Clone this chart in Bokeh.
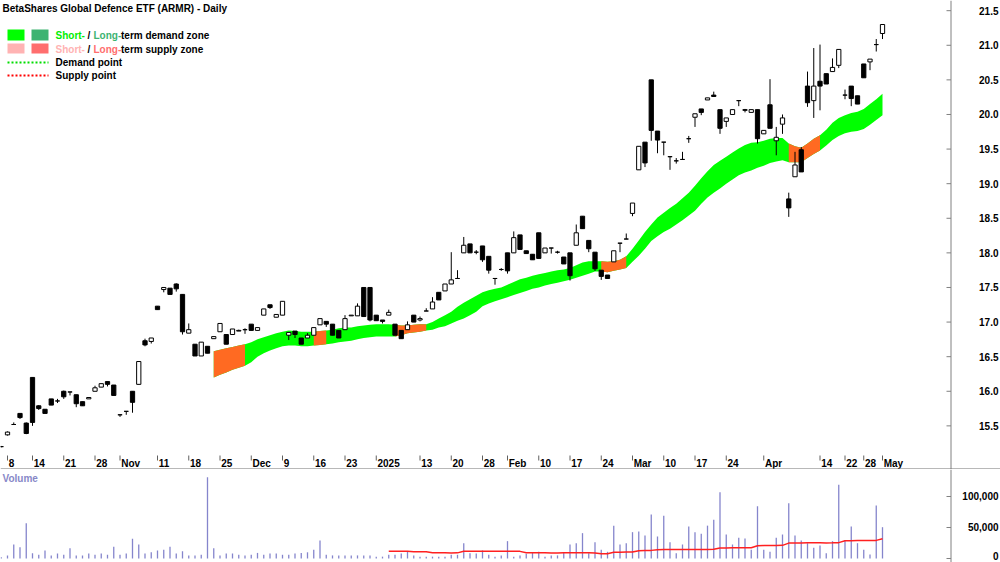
import numpy as np
import pandas as pd
from bokeh.plotting import figure
from bokeh.layouts import column
from bokeh.models import Range1d
from bokeh.core.properties import value
from bokeh.embed import file_html
from bokeh.resources import INLINE

# ---------------- data ----------------
title_text = "BetaShares Global Defence ETF (ARMR) - Daily"
holidays = ["2024-12-25", "2024-12-26", "2025-01-01", "2025-01-27",
            "2025-04-18", "2025-04-21", "2025-04-25"]
trading_days = [d.strftime("%Y-%m-%d") for d in pd.bdate_range("2024-10-07", "2025-05-01")
                if d.strftime("%Y-%m-%d") not in holidays]

opens = [15.20, 15.37, 15.52, 15.68, 15.54, 16.20, 15.79, 15.74, 15.89, 15.86,
         16.00, 15.99, 15.95, 15.85, 15.89, 16.00, 16.06, 16.14, 16.09, 15.66,
         15.71, 16.00, 16.10, 16.73, 16.72, 17.23, 17.47, 17.49, 17.55, 17.40,
         16.84, 16.68, 16.51, 16.65, 16.76, 16.86, 16.82, 16.82, 16.87, 16.89,
         16.97, 16.88, 17.10, 17.25, 17.07, 17.10, 16.81, 16.87, 16.77, 16.77,
         16.81, 16.96, 17.01, 16.97, 16.88, 16.89, 17.09, 17.09, 17.50, 17.50,
         17.10, 17.03, 17.10, 16.97, 16.88, 16.89, 17.10, 17.03, 17.16, 17.19,
         17.43, 17.45, 17.55, 17.63, 18.00, 18.13, 18.01, 18.10, 17.95, 17.63,
         17.76, 18.00, 18.00, 18.26, 18.03, 17.98, 18.29, 18.00, 18.07, 18.01,
         17.94, 18.00, 18.11, 18.53, 18.18, 18.01, 17.75, 17.68, 17.87, 18.14,
         18.20, 18.57, 19.20, 19.60, 20.50, 19.76, 19.60, 19.39, 19.33, 19.35,
         19.65, 19.96, 20.08, 20.21, 20.28, 20.07, 19.90, 20.00, 20.20, 20.07,
         20.03, 20.07, 19.72, 20.14, 19.62, 19.86, 18.78, 19.10, 19.49, 20.41,
         20.20, 20.48, 20.59, 20.62, 20.71, 20.28, 20.41, 20.27, 20.73, 20.76,
         21.01, 21.17]
highs = [15.21, 15.42, 15.55, 15.68, 15.55, 16.20, 15.80, 15.74, 15.89, 15.89,
         16.01, 15.99, 15.95, 15.85, 15.91, 16.08, 16.11, 16.14, 16.09, 15.66,
         15.71, 16.00, 16.43, 16.76, 16.77, 17.23, 17.50, 17.49, 17.56, 17.40,
         16.98, 16.68, 16.71, 16.65, 16.79, 16.98, 16.82, 16.90, 16.89, 16.91,
         16.97, 16.92, 17.19, 17.25, 17.11, 17.30, 16.85, 16.87, 16.77, 16.84,
         16.92, 17.05, 17.01, 16.97, 16.88, 17.10, 17.10, 17.27, 17.50, 17.50,
         17.10, 17.03, 17.18, 16.97, 16.88, 17.01, 17.10, 17.08, 17.20, 17.36,
         17.43, 17.55, 18.01, 17.75, 18.23, 18.13, 18.04, 18.10, 17.95, 17.63,
         17.78, 18.00, 18.31, 18.26, 18.03, 17.98, 18.29, 18.07, 18.07, 18.03,
         17.94, 18.00, 18.41, 18.53, 18.18, 18.01, 17.75, 17.68, 18.03, 18.14,
         18.28, 18.72, 19.54, 19.60, 20.50, 19.76, 19.60, 19.39, 19.37, 19.46,
         19.69, 20.01, 20.08, 20.24, 20.33, 20.07, 19.95, 20.07, 20.20, 20.08,
         20.07, 20.07, 19.77, 20.51, 19.82, 20.00, 18.87, 19.46, 19.53, 20.62,
         20.96, 21.01, 20.59, 20.81, 20.94, 20.36, 20.41, 20.27, 20.73, 20.80,
         21.09, 21.30]
lows = [15.19, 15.36, 15.52, 15.60, 15.38, 15.50, 15.73, 15.68, 15.80, 15.83,
        15.89, 15.94, 15.77, 15.79, 15.89, 16.00, 16.06, 16.07, 15.94, 15.63,
        15.66, 15.69, 16.10, 16.65, 16.69, 17.18, 17.43, 17.40, 17.44, 16.82,
        16.84, 16.51, 16.51, 16.55, 16.76, 16.86, 16.68, 16.82, 16.87, 16.83,
        16.88, 16.88, 17.10, 17.19, 17.07, 17.10, 16.74, 16.77, 16.68, 16.77,
        16.81, 16.96, 16.93, 16.81, 16.77, 16.89, 17.09, 17.09, 17.08, 17.01,
        17.02, 16.98, 17.10, 16.81, 16.76, 16.89, 17.00, 17.01, 17.16, 17.19,
        17.32, 17.45, 17.55, 17.63, 18.00, 18.00, 17.98, 17.87, 17.70, 17.54,
        17.74, 17.70, 18.00, 18.05, 17.99, 17.90, 17.92, 18.00, 17.99, 17.99,
        17.84, 17.60, 18.11, 18.35, 18.01, 17.74, 17.61, 17.63, 17.87, 18.01,
        18.20, 18.53, 19.20, 19.24, 19.62, 19.44, 19.41, 19.20, 19.29, 19.35,
        19.59, 19.82, 19.99, 20.21, 20.26, 19.72, 19.82, 20.00, 20.12, 20.03,
        20.03, 19.58, 19.72, 19.80, 19.41, 19.72, 18.52, 19.10, 19.17, 20.11,
        19.95, 20.06, 20.44, 20.62, 20.67, 20.22, 20.12, 20.15, 20.53, 20.64,
        20.91, 21.09]
closes = [15.20, 15.41, 15.52, 15.62, 15.39, 15.55, 15.75, 15.68, 15.80, 15.86,
          15.92, 15.99, 15.82, 15.79, 15.91, 16.05, 16.11, 16.10, 15.94, 15.66,
          15.71, 15.84, 16.43, 16.67, 16.77, 17.18, 17.50, 17.40, 17.48, 16.86,
          16.89, 16.51, 16.71, 16.55, 16.79, 16.98, 16.68, 16.90, 16.88, 16.89,
          16.88, 16.92, 17.19, 17.21, 17.11, 17.30, 16.85, 16.82, 16.68, 16.81,
          16.92, 17.05, 16.97, 16.81, 16.77, 17.05, 17.10, 17.23, 17.08, 17.03,
          17.02, 17.01, 17.14, 16.81, 16.76, 16.96, 17.00, 17.05, 17.16, 17.29,
          17.32, 17.55, 17.61, 17.63, 18.11, 18.00, 18.01, 17.90, 17.75, 17.63,
          17.76, 17.74, 18.22, 18.05, 17.99, 17.90, 17.92, 18.07, 18.07, 18.01,
          17.84, 17.67, 18.29, 18.35, 18.06, 17.77, 17.66, 17.63, 18.03, 18.14,
          18.20, 18.72, 19.54, 19.30, 19.77, 19.63, 19.60, 19.39, 19.33, 19.35,
          19.65, 20.01, 20.03, 20.24, 20.26, 19.80, 19.95, 20.07, 20.20, 20.06,
          20.07, 19.65, 19.77, 19.80, 19.67, 19.95, 18.65, 19.27, 19.17, 20.17,
          20.41, 20.41, 20.44, 20.68, 20.94, 20.28, 20.23, 20.15, 20.53, 20.80,
          21.01, 21.30]
volumes = [2000, 5000, 22600, 18000, 57000, 8500, 6000, 13000, 5000, 8000,
           6000, 16600, 5000, 5000, 8000, 6000, 8000, 6000, 19000, 6000,
           8000, 31700, 22600, 8000, 10000, 13000, 14000, 19000, 8000, 11800,
           5000, 5000, 6000, 131000, 16600, 5000, 8000, 8000, 6000, 5000,
           6000, 9000, 6000, 8000, 8000, 6000, 6000, 8000, 9000, 10000,
           14000, 29000, 6000, 5000, 5000, 5000, 5000, 5000, 5000, 5000,
           3000, 3000, 6000, 6000, 8000, 11000, 5000, 3000, 3000, 3000,
           3000, 3000, 6000, 6000, 24700, 8500, 8000, 13000, 6000, 3000,
           5000, 28000, 3000, 5000, 7500, 9700, 11000, 3000, 5000, 5000,
           10000, 22600, 24700, 40900, 8600, 26300, 14000, 10800, 53000, 22600,
           24700, 42500, 43500, 37000, 71000, 35500, 68800, 26300, 8600, 22600,
           51600, 42500, 39800, 53000, 62400, 107000, 38700, 22600, 33300, 32300,
           14000, 84400, 14000, 11000, 33300, 38700, 89200, 37000, 29000, 24700,
           17200, 20900, 8600, 28000, 119000, 30000, 51600, 24700, 14000, 6500,
           85500, 50500]

vol_avg_start = "2025-01-06"
vol_avg = [11800, 11800, 11800, 11700, 10800, 10700, 10700, 9200, 9100, 9100,
           9000, 9100, 11600, 11700, 11800, 11800, 11800, 11800, 11700, 11800,
           11700, 11500, 9300, 9200, 9100, 9100, 9000, 9000, 9100, 9100,
           9200, 9300, 9200, 9000, 7700, 7500, 10000, 10200, 10300, 10400,
           12600, 12900, 13100, 14200, 14400, 14500, 14500, 14400, 14500, 14600,
           14600, 14700, 14800, 16900, 17100, 17200, 17200, 17300, 17300, 20500,
           20800, 21000, 21100, 21200, 24800, 25100, 25200, 25300, 25300, 25300,
           25200, 25300, 25600, 28600, 28800, 29000, 29000, 29100, 29200, 31700]

zone_start = "2024-11-22"
zone_upper = [16.58, 16.60, 16.62, 16.64, 16.66, 16.68, 16.71, 16.75, 16.78, 16.81,
              16.84, 16.86, 16.88, 16.87, 16.86, 16.86, 16.86, 16.87, 16.88, 16.89,
              16.91, 16.92, 16.92, 16.94, 16.95, 16.96, 16.97, 16.97, 16.97, 16.96,
              16.95, 16.95, 16.96, 16.97, 16.97, 17.00, 17.05, 17.10, 17.15, 17.22,
              17.28, 17.33, 17.38, 17.43, 17.46, 17.48, 17.50, 17.54, 17.58, 17.62,
              17.64, 17.67, 17.69, 17.71, 17.73, 17.75, 17.76, 17.78, 17.82, 17.86,
              17.88, 17.88, 17.88, 17.87, 17.88, 17.90, 17.95, 18.06, 18.18, 18.30,
              18.41, 18.51, 18.58, 18.65, 18.71, 18.79, 18.87, 18.97, 19.08, 19.18,
              19.27, 19.33, 19.39, 19.45, 19.51, 19.56, 19.59, 19.60, 19.62, 19.65,
              19.66, 19.66, 19.58, 19.54, 19.52, 19.58, 19.65, 19.70, 19.78, 19.88,
              19.95, 19.99, 20.02, 20.04, 20.08, 20.15, 20.22, 20.30]
zone_lower = [16.20, 16.24, 16.27, 16.31, 16.34, 16.37, 16.42, 16.50, 16.55, 16.59,
              16.62, 16.65, 16.66, 16.66, 16.65, 16.65, 16.66, 16.67, 16.68, 16.69,
              16.71, 16.72, 16.73, 16.75, 16.77, 16.78, 16.79, 16.79, 16.79, 16.79,
              16.81, 16.84, 16.85, 16.86, 16.88, 16.89, 16.92, 16.94, 16.98, 17.02,
              17.05, 17.10, 17.15, 17.23, 17.27, 17.30, 17.33, 17.36, 17.39, 17.42,
              17.45, 17.48, 17.50, 17.53, 17.55, 17.57, 17.59, 17.61, 17.64, 17.67,
              17.70, 17.73, 17.73, 17.72, 17.74, 17.76, 17.78, 17.87, 17.96, 18.06,
              18.17, 18.24, 18.30, 18.35, 18.41, 18.47, 18.54, 18.61, 18.71, 18.80,
              18.87, 18.93, 19.00, 19.06, 19.12, 19.16, 19.19, 19.23, 19.26, 19.30,
              19.32, 19.34, 19.31, 19.31, 19.31, 19.37, 19.43, 19.48, 19.55, 19.63,
              19.69, 19.73, 19.75, 19.76, 19.79, 19.85, 19.92, 19.99]
supply_periods = [("2024-11-22", "2024-11-29"), ("2024-12-16", "2024-12-18"),
                  ("2025-01-07", "2025-01-14"), ("2025-02-24", "2025-02-28"),
                  ("2025-04-07", "2025-04-14")]

tick_dates = ["2024-10-08", "2024-10-14", "2024-10-21", "2024-10-28", "2024-11-01",
              "2024-11-11", "2024-11-18", "2024-11-25", "2024-12-02", "2024-12-09",
              "2024-12-16", "2024-12-23", "2025-01-02", "2025-01-13", "2025-01-20",
              "2025-01-28", "2025-02-03", "2025-02-10", "2025-02-17", "2025-02-24",
              "2025-03-03", "2025-03-10", "2025-03-17", "2025-03-24", "2025-04-01",
              "2025-04-14", "2025-04-22", "2025-04-28", "2025-05-01"]
tick_labels = ["8", "14", "21", "28", "Nov", "11", "18", "25", "Dec", "9", "16", "23",
               "2025", "13", "20", "28", "Feb", "10", "17", "24", "Mar", "10", "17",
               "24", "Apr", "14", "22", "28", "May"]
price_ticks = [15.5, 16.0, 16.5, 17.0, 17.5, 18.0, 18.5, 19.0, 19.5, 20.0, 20.5, 21.0, 21.5]
volume_ticks = [0, 50000, 100000]

# ---------------- geometry ----------------
FONT = "Liberation Sans"
W = 1000
H1, H2 = 469, 93
PXD = 6.25          # pixels per trading day
X0 = -0.12
P_TOP, PYU = 21.647, 69.2
V_TOP, VPX = 143548.0, 1612.9

def fx(px):
    return X0 + px / PXD

def fy(py):
    return P_TOP - py / PYU

def fv(py):
    return V_TOP - py * VPX

idx = {d: i for i, d in enumerate(trading_days)}
xs = np.arange(len(trading_days))

p1 = figure(width=W, height=H1, x_range=Range1d(X0, X0 + W / PXD),
            y_range=Range1d(P_TOP - H1 / PYU, P_TOP),
            x_axis_location=None, y_axis_location=None,
            output_backend="svg", toolbar_location=None, min_border=0)
p1.outline_line_color = None
p1.grid.visible = False

# zone band
zs = idx[zone_start]
zx = xs[zs:zs + len(zone_upper)]
p1.varea(x=zx, y1=zone_lower, y2=zone_upper, fill_color="#00ff00")
for a, b in supply_periods:
    s, e = idx[a] - zs, idx[b] - zs + 1
    p1.varea(x=zx[s:e], y1=zone_lower[s:e], y2=zone_upper[s:e], fill_color="#ff6a22")

# candles
o = np.array(opens); c = np.array(closes)
p1.segment(x0=xs, y0=highs, x1=xs, y1=lows, line_color="black", line_width=1)
fills = ["black" if cc < oo else "white" for oo, cc in zip(o, c)]
p1.vbar(x=xs, width=0.68, top=np.maximum(o, c), bottom=np.minimum(o, c),
        fill_color=fills, line_color="black", line_width=1)

# right price axis
AX = fx(950.5)
p1.segment(x0=[AX], y0=[fy(0)], x1=[AX], y1=[fy(H1)], line_color="#808080", line_width=1)
p1.segment(x0=[fx(946)] * len(price_ticks), y0=price_ticks, x1=[AX] * len(price_ticks),
           y1=price_ticks, line_color="#808080", line_width=1)
p1.text(x=[fx(998)] * len(price_ticks), y=price_ticks, text=[f"{t:.1f}" for t in price_ticks],
        text_font=value(FONT), text_font_size="10px", text_font_style="bold",
        text_align="right", text_baseline="middle", text_color="black")

# date axis (inside bottom of price panel)
tx = [idx[d] for d in tick_dates]
p1.segment(x0=tx, y0=[fy(455)] * len(tx), x1=tx, y1=[fy(460)] * len(tx),
           line_color="#606060", line_width=1)
p1.text(x=[t + 1.2 / PXD for t in tx], y=[fy(462.5)] * len(tx), text=tick_labels,
        text_font=value(FONT), text_font_size="10px", text_font_style="bold",
        text_align="left", text_baseline="middle", text_color="black")
p1.segment(x0=[fx(0)], y0=[fy(468.5)], x1=[fx(W)], y1=[fy(468.5)],
           line_color="#707070", line_width=1)

# title and legend
def txt(fig, px, py, s, color="black", size="10px"):
    fig.text(x=[fx(px)], y=[fy(py)], text=[s], text_font=value(FONT), text_font_size=size,
             text_font_style="bold", text_align="left", text_baseline="middle",
             text_color=color)

txt(p1, 2, 8, title_text)
p1.quad(left=[fx(7)], right=[fx(24)], top=[fy(29)], bottom=[fy(40)], fill_color="#00ff00", line_color=None)
p1.quad(left=[fx(31)], right=[fx(48)], top=[fy(29)], bottom=[fy(40)], fill_color="#3cb371", line_color=None)
p1.quad(left=[fx(7)], right=[fx(24)], top=[fy(43)], bottom=[fy(53)], fill_color="#ffb3b3", line_color=None)
p1.quad(left=[fx(31)], right=[fx(48)], top=[fy(43)], bottom=[fy(53)], fill_color="#ff6e6e", line_color=None)
for row, (c1, c2, rest) in enumerate([("#00ee00", "#3cb371", "term demand zone"),
                                       ("#ffb3b3", "#ff6e6e", "term supply zone")]):
    yy = 35 + row * 13.5
    txt(p1, 55, yy, "Short-", c1)
    txt(p1, 87, yy, "/")
    txt(p1, 93, yy, "Long-", c2)
    txt(p1, 120.5, yy, rest)
p1.line(x=[fx(7), fx(48)], y=[fy(62), fy(62)], line_color="#00dd00", line_width=2, line_dash="2 2")
p1.line(x=[fx(7), fx(48)], y=[fy(75), fy(75)], line_color="#ff0000", line_width=2, line_dash="2 2")
txt(p1, 55, 62, "Demand point")
txt(p1, 55, 75, "Supply point")

# ---------------- volume panel ----------------
p2 = figure(width=W, height=H2, x_range=p1.x_range,
            y_range=Range1d(V_TOP - H2 * VPX, V_TOP),
            x_axis_location=None, y_axis_location=None,
            output_backend="svg", toolbar_location=None, min_border=0)
p2.outline_line_color = None
p2.grid.visible = False
p2.segment(x0=xs, y0=[0] * len(xs), x1=xs, y1=volumes, line_color="#8585cc", line_width=1.3)
vs = idx[vol_avg_start]
p2.line(x=xs[vs:vs + len(vol_avg)], y=vol_avg, line_color="#ff2020", line_width=1.5)
p2.segment(x0=[AX], y0=[fv(0)], x1=[AX], y1=[fv(H2)], line_color="#808080", line_width=1)
p2.segment(x0=[fx(946)] * 3, y0=volume_ticks, x1=[AX] * 3, y1=volume_ticks,
           line_color="#808080", line_width=1)
# labels: the zero label is lifted a little so that it stays inside the page
label_y = [v if v > 0 else fv(86.5) for v in volume_ticks]
p2.text(x=[fx(998)] * 3, y=label_y, text=[f"{v:,}" for v in volume_ticks],
        text_font=value(FONT), text_font_size="10px", text_font_style="bold",
        text_align="right", text_baseline="middle", text_color="black")
p2.text(x=[fx(2)], y=[fv(9)], text=["Volume"], text_font=value(FONT), text_font_size="10px",
        text_font_style="bold", text_align="left", text_baseline="middle", text_color="#8888c8")

layout = column(p1, p2, spacing=0)
open("out.html", "w").write(file_html(layout, INLINE))
